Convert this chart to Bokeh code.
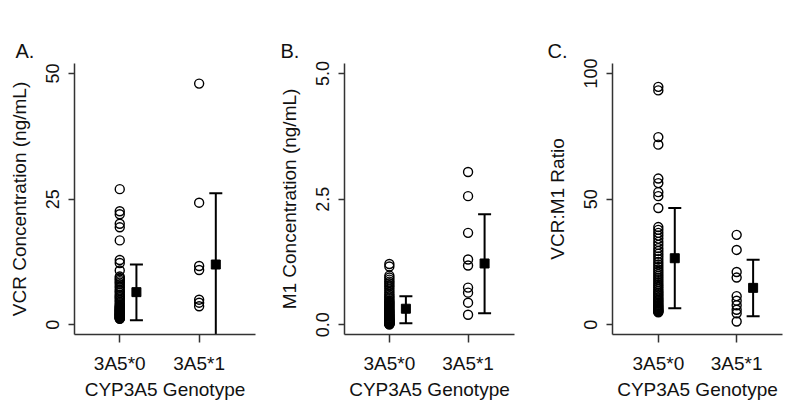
from bokeh.plotting import figure
from bokeh.layouts import row
from bokeh.models import Range1d, FixedTicker
from bokeh.embed import file_html
from bokeh.resources import INLINE

# ---------------- data ----------------
genotypes = ["3A5*0", "3A5*1"]
group_pos = [1, 2]

vcr_3a5_0 = [27.0, 22.6, 22.0, 20.1, 19.4, 16.8, 12.9, 12.3, 10.8,
             9.6, 9.3, 9.0, 8.7, 8.4, 8.1, 7.7, 7.4, 7.0, 6.7, 6.4, 6.0,
             5.7, 5.5, 5.2, 4.9, 4.6, 4.3, 4.0, 3.8, 3.6, 3.5, 3.4, 3.2,
             3.1, 3.0, 2.9, 2.8, 2.7, 2.6, 2.5, 2.4, 2.3, 2.2, 2.1, 2.0,
             2.0, 1.9, 1.8, 1.7, 1.6, 1.5, 1.4, 1.3, 1.3, 1.2]
vcr_3a5_1 = [48.0, 24.3, 11.7, 10.9, 5.0, 4.4, 3.7]
vcr_mean = [6.5, 12.0]
vcr_lower = [0.9, -2.3]
vcr_upper = [12.0, 26.2]

m1_3a5_0 = [1.21, 1.16, 0.98, 0.94, 0.90, 0.86, 0.83, 0.79, 0.76, 0.72,
            0.68, 0.64, 0.60, 0.57, 0.54, 0.51, 0.48, 0.46, 0.44, 0.42,
            0.40, 0.38, 0.36, 0.34, 0.32, 0.30, 0.28, 0.27, 0.25, 0.24,
            0.22, 0.21, 0.19, 0.18, 0.17, 0.16, 0.14, 0.13, 0.12, 0.11,
            0.10, 0.09, 0.08, 0.07, 0.07, 0.06, 0.05, 0.05, 0.04, 0.03,
            0.03, 0.02, 0.02, 0.01, 0.01]
m1_3a5_1 = [3.04, 2.56, 1.83, 1.30, 1.18, 0.74, 0.64, 0.44, 0.20]
m1_mean = [0.32, 1.22]
m1_lower = [0.03, 0.23]
m1_upper = [0.57, 2.20]

ratio_3a5_0 = [94.7, 93.3, 74.7, 71.7, 58.2, 56.4, 52.8, 51.2, 46.5,
               38.9, 37.8, 36.6, 35.5, 34.3, 33.0, 31.8, 30.5, 29.4, 28.3,
               27.2, 26.1, 25.0, 24.0, 23.0, 22.0, 21.1, 20.2, 19.4, 18.6,
               17.8, 17.0, 16.2, 15.5, 14.8, 14.1, 13.4, 12.8, 12.2, 11.6,
               11.0, 10.4, 9.9, 9.4, 8.9, 8.4, 7.9, 7.5, 7.1, 6.7, 6.3,
               6.0, 5.7, 5.4, 5.2, 5.0]
ratio_3a5_1 = [35.8, 29.8, 21.0, 18.8, 11.4, 9.6, 7.8, 6.0, 4.6, 1.3]
ratio_mean = [26.5, 14.7]
ratio_lower = [6.6, 3.4]
ratio_upper = [46.5, 25.9]

FONT = "Liberation Sans"
AX = "#333333"
TXT = "#111111"
ERR_OFFSET = 0.21


def panel(letter, ylabel, g0, g1, mean, lower, upper, yr, xr, yticks,
          ytick_labels, left, fw, right, title_off):
    p = figure(frame_width=fw, frame_height=271,
               min_border_left=left, min_border_right=right,
               min_border_top=63, min_border_bottom=80,
               x_range=Range1d(*xr), y_range=Range1d(*yr),
               output_backend="svg", toolbar_location=None, tools="")
    p.outline_line_color = None
    p.xgrid.visible = False
    p.ygrid.visible = False
    p.background_fill_color = "white"
    p.border_fill_color = "white"

    p.title.text = letter
    p.title.align = "left"
    p.title.offset = title_off
    p.title.text_font = FONT
    p.title.text_font_size = "20px"
    p.title.text_font_style = "normal"
    p.title.text_color = TXT
    p.title.standoff = 3

    # points
    p.scatter([group_pos[0]] * len(g0), g0, marker="circle", size=9,
              fill_color=None, line_color="black", line_width=1.4)
    p.scatter([group_pos[1]] * len(g1), g1, marker="circle", size=9,
              fill_color=None, line_color="black", line_width=1.4)

    # mean +/- error bars
    xe = [g + ERR_OFFSET for g in group_pos]
    p.segment(xe, lower, xe, upper, line_color="black", line_width=2)
    p.scatter(xe, upper, marker="dash", size=13, line_color="black",
              line_width=2)
    p.scatter(xe, lower, marker="dash", size=13, line_color="black",
              line_width=2)
    p.scatter(xe, mean, marker="square", size=9, fill_color="black",
              line_color="black")

    # axes
    for ax in (p.xaxis[0], p.yaxis[0]):
        ax.axis_line_color = AX
        ax.axis_line_width = 1.5
        ax.major_tick_line_color = AX
        ax.major_tick_line_width = 1.5
        ax.minor_tick_line_color = None
        ax.major_tick_in = 0
        ax.major_label_text_font = FONT
        ax.major_label_text_color = TXT
        ax.axis_label_text_font = FONT
        ax.axis_label_text_font_style = "normal"
        ax.axis_label_text_color = TXT
        ax.axis_label_text_font_size = "19px"

    xa = p.xaxis[0]
    xa.ticker = FixedTicker(ticks=group_pos)
    xa.major_label_overrides = {gp: gl for gp, gl in zip(group_pos, genotypes)}
    xa.major_tick_out = 8
    xa.major_label_text_font_size = "19px"
    xa.major_label_standoff = 10
    xa.axis_label = "CYP3A5 Genotype"
    xa.axis_label_standoff = 2

    ya = p.yaxis[0]
    ya.ticker = FixedTicker(ticks=yticks)
    ya.major_label_overrides = {t: l for t, l in zip(yticks, ytick_labels)}
    ya.major_tick_out = 6
    ya.major_label_text_font_size = "18px"
    ya.major_label_orientation = "vertical"
    ya.major_label_standoff = 9
    ya.axis_label = ylabel
    ya.axis_label_standoff = 14
    return p


pA = panel("A.", "VCR Concentration (ng/mL)", vcr_3a5_0, vcr_3a5_1,
           vcr_mean, vcr_lower, vcr_upper, (-1.93, 52.0), (0.43, 2.71),
           [0, 25, 50], ["0", "25", "50"], 74, 181, 20, -59)
pB = panel("B.", "M1 Concentration (ng/mL)", m1_3a5_0, m1_3a5_1,
           m1_mean, m1_lower, m1_upper, (-0.193, 5.2), (0.43, 2.59),
           [0, 2.5, 5.0], ["0.0", "2.5", "5.0"], 67, 170, 29, -64)
pC = panel("C.", "VCR:M1 Ratio", ratio_3a5_0, ratio_3a5_1,
           ratio_mean, ratio_lower, ratio_upper, (-3.86, 104.0), (0.415, 2.585),
           [0, 50, 100], ["0", "50", "100"], 67, 170, 22, -65)

layout = row(pA, pB, pC, spacing=0)
open("out.html", "w").write(file_html(layout, INLINE))
